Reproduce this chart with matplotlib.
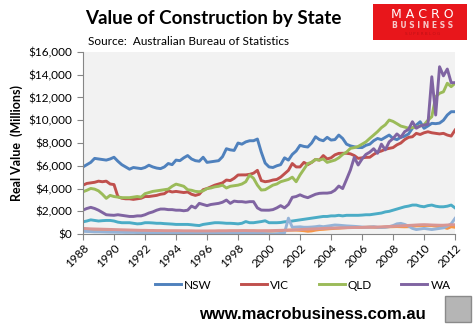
import numpy as np
import matplotlib
matplotlib.use("Agg")
import matplotlib.pyplot as plt
from matplotlib.patches import Rectangle
from matplotlib.ticker import FuncFormatter

# quarterly, 1988.0 to 2012.0
nsw = [5900, 6100, 6300, 6650, 6600, 6550, 6500, 6600, 6750, 6400, 6100, 5900,
       5700, 5850, 5800, 5750, 5850, 6050, 5900, 5800, 5750, 5900, 6200, 6100,
       6500, 6450, 6700, 6900, 6600, 6450, 6400, 6750, 6300, 6350, 6400, 6450,
       6800, 7500, 7400, 7350, 8000, 7900, 8100, 8200, 8200, 8350, 7200, 6240,
       5900, 5850, 6000, 6100, 6700, 6500, 7000, 7300, 7800, 7700, 7650, 8000,
       8550, 8300, 8200, 8500, 8260, 8300, 8700, 8400, 7900, 7750, 7670, 7600,
       7600, 7800, 7900, 8200, 8400, 8300, 8500, 8700, 8400, 8300, 8500, 8600,
       8800, 9300, 9580, 9870, 9290, 9500, 9730, 9700, 9750, 10000, 10460, 10750,
       10750]
vic = [4300, 4450, 4500, 4550, 4650, 4600, 4650, 4400, 4350, 3300, 3150, 3100,
       3100, 3050, 3100, 3150, 3300, 3300, 3350, 3400, 3500, 3550, 3800, 3700,
       3750, 3700, 3650, 3700, 3500, 3400, 3500, 3900, 4000, 4150, 4300, 4400,
       4500, 4750, 4700, 4900, 5190, 5200, 5200, 5250, 5350, 5600, 4700, 4600,
       4650, 4750, 4800, 5000, 5300, 5600, 6200, 5900, 5900, 6300, 6100, 6300,
       6560, 6500, 6900, 6600, 6700, 6960, 7090, 7100, 7100, 7050, 6900, 6650,
       6700, 6740, 6750, 7000, 7200, 7300, 7450, 7530, 7600, 7840, 8000, 8300,
       8500, 8550, 8850, 8750, 8900, 8990, 8900, 8850, 8800, 8850, 8700, 8610,
       9140]
qld = [3720, 3850, 4010, 3950, 3800, 3500, 3140, 3400, 3300, 3250, 3200, 3200,
       3200, 3250, 3300, 3250, 3550, 3650, 3750, 3800, 3850, 3900, 3950, 4200,
       4390, 4300, 4200, 3900, 3850, 3750, 3720, 3800, 4000, 4050, 4150, 4200,
       4300, 4050, 4200, 4250, 4300, 4400, 4600, 5190, 4900, 4300, 3870, 3900,
       4100, 4300, 4400, 4600, 4700, 4800, 5000, 4600, 5200, 5700, 6200, 6300,
       6560, 6500, 6600, 6300, 6400, 6500, 6700, 7000, 7200, 7530, 7600, 7700,
       7900, 8100, 8410, 8700, 9000, 9350, 9600, 10020, 9900, 9700, 9490, 9400,
       9300, 9350, 9400, 9500, 9600, 10000, 10310, 12070, 12370, 12500, 13250, 12950,
       13250]
wa = [2110, 2250, 2350, 2250, 2100, 1900, 1700, 1670, 1650, 1700, 1650, 1600,
      1550, 1550, 1600, 1600, 1700, 1850, 1950, 2100, 2200, 2200, 2150, 2150,
      2100, 2100, 2050, 2100, 2460, 2300, 2700, 2600, 2500, 2600, 2650, 2700,
      2800, 2990, 2700, 2900, 2850, 2850, 2800, 2850, 2850, 2300, 2110, 2100,
      2100, 2150, 2300, 2500, 2300, 2600, 3230, 3300, 3450, 3300, 3200, 3350,
      3500, 3580, 3600, 3600, 3650, 3850, 4220, 4000, 4800, 5630, 6740, 6070,
      6600, 7000, 7200, 7500, 7100, 7900, 7400, 8100, 8400, 8800, 8500, 9000,
      9200, 9870, 9300, 9500, 9580, 9650, 13820, 10460, 14700, 13900, 14500, 13300,
      13300]
sa = [1080, 1150, 1250, 1200, 1150, 1180, 1200, 1200, 1150, 1050, 1000, 1000,
      1000, 950, 900, 920, 1000, 1000, 980, 950, 950, 920, 900, 880,
      850, 850, 850, 850, 820, 780, 750, 850, 900, 950, 1000, 1000,
      980, 950, 950, 930, 900, 950, 1100, 1000, 1000, 1050, 1100, 1170,
      1000, 1000, 1000, 1020, 1080, 1100, 1150, 1200, 1250, 1300, 1350, 1400,
      1450, 1500, 1550, 1550, 1600, 1600, 1650, 1600, 1650, 1650, 1650, 1650,
      1670, 1700, 1700, 1750, 1800, 1850, 1950, 2000, 2100, 2200, 2300, 2400,
      2460, 2550, 2550, 2450, 2400, 2500, 2550, 2450, 2400, 2400, 2450, 2550,
      2300]
tas = [450, 420, 400, 380, 360, 350, 340, 330, 320, 310, 300, 300,
       290, 280, 280, 270, 270, 260, 260, 250, 250, 250, 240, 240,
       240, 230, 230, 230, 230, 220, 220, 230, 230, 240, 240, 250,
       250, 250, 260, 260, 260, 270, 270, 270, 270, 260, 260, 250,
       250, 260, 280, 300, 320, 340, 350, 350, 330, 300, 250, 280,
       350, 400, 420, 450, 480, 500, 520, 550, 570, 600, 620, 600,
       580, 600, 620, 600, 580, 600, 620, 640, 650, 660, 650, 640,
       650, 700, 720, 740, 750, 760, 740, 700, 650, 600, 500, 650,
       600]
nt = [250, 230, 220, 200, 200, 190, 180, 170, 170, 160, 160, 150,
      150, 150, 140, 140, 140, 130, 130, 130, 120, 120, 120, 110,
      110, 110, 100, 100, 100, 100, 100, 100, 100, 110, 110, 110,
      110, 100, 100, 100, 100, 100, 90, 90, 80, 70, 60, 40,
      20, 10, 30, 60, 100, 1400, 600, 620, 640, 600, 600, 620,
      650, 700, 650, 700, 750, 800, 780, 750, 720, 700, 680, 650,
      620, 600, 620, 650, 600, 580, 600, 650, 750, 900, 940, 850,
      700, 500, 400, 450, 500, 450, 400, 450, 500, 550, 700, 900,
      1380]
act = [500, 480, 460, 450, 440, 430, 420, 410, 400, 390, 380, 370,
       360, 350, 340, 330, 330, 320, 320, 310, 310, 300, 300, 300,
       300, 300, 290, 290, 290, 280, 280, 280, 280, 280, 280, 290,
       290, 290, 300, 300, 300, 310, 310, 300, 300, 290, 290, 300,
       300, 310, 320, 330, 340, 350, 360, 380, 400, 420, 430, 450,
       460, 480, 500, 510, 520, 530, 540, 550, 560, 570, 580, 580,
       590, 600, 600, 610, 620, 630, 650, 670, 690, 700, 720, 740,
       760, 780, 800, 820, 830, 820, 800, 790, 780, 780, 800, 820,
       820]

years = 1988 + np.arange(len(nsw)) / 4.0
series = [("NSW", nsw, "#4F81BD"), ("VIC", vic, "#C0504D"), ("QLD", qld, "#9BBB59"),
          ("WA", wa, "#8064A2"), ("SA", sa, "#4BACC6"), ("TAS", tas, "#F79646"),
          ("NT", nt, "#95B3D7"), ("ACT", act, "#D99694")]

plt.rcParams['font.family'] = ['Lato', 'DejaVu Sans']

fig = plt.figure(figsize=(4.77, 3.33), dpi=100)
ax = fig.add_axes([0.174, 0.297, 0.780, 0.547])
ax.set_facecolor("#F2F2F2")

lineas = []
for nombre, vals, col in series:
    l, = ax.plot(years, vals, color=col, lw=2.1, solid_joinstyle="round", label=nombre)
    lineas.append(l)

ax.set_xlim(1988, 2012)
ax.set_ylim(0, 16000)
ax.set_xticks(range(1988, 2013, 2))
ax.set_yticks(range(0, 16001, 2000))
ax.yaxis.set_major_formatter(FuncFormatter(lambda v, p: "${:,.0f}".format(v)))
for lab in ax.get_xticklabels():
    lab.set_rotation(45)
    lab.set_ha("right")
    lab.set_rotation_mode("anchor")
ax.tick_params(axis="both", labelsize=8.5, colors="#868686", labelcolor="black",
               length=4, width=0.8, direction="out")
ax.tick_params(axis="x", pad=2)
for s in ["top", "right"]:
    ax.spines[s].set_visible(False)
for s in ["left", "bottom"]:
    ax.spines[s].set_color("#868686")
ax.set_ylabel("Real Value  (Millions)", fontsize=9, fontweight="bold", labelpad=4)

fig.legend(lineas[:4], ["NSW", "VIC", "QLD", "WA"], loc="center", ncol=4,
           bbox_to_anchor=(0.635, 0.144), frameon=False, fontsize=8.5,
           handlelength=2.2, columnspacing=2.5, handletextpad=0.25)

fig.text(0.178, 0.945, "Value of Construction by State", fontsize=13.5, fontweight="bold",
         va="center")
fig.text(0.185, 0.874, "Source:  Australian Bureau of Statistics", fontsize=8.5, va="center")

# logo
fig.patches.append(Rectangle((0.782, 0.880), 0.197, 0.108, transform=fig.transFigure,
                             facecolor="#E8161B", edgecolor="none"))
fig.text(0.886, 0.957, "M A C R O", color="white", fontsize=9, ha="center", va="center",
         family="DejaVu Sans")
fig.text(0.886, 0.923, "B U S I N E S S", color="#F6C9C9", fontsize=5.5, ha="center",
         va="center", fontweight="bold", family="DejaVu Sans")
fig.text(0.886, 0.899, "S U P E R B L O G", color="#C01015", fontsize=3, ha="center",
         va="center", family="DejaVu Sans")

fig.text(0.655, 0.055, "www.macrobusiness.com.au", fontsize=12, fontweight="heavy",
         ha="center", va="center", family=["Liberation Sans", "DejaVu Sans"])
fig.patches.append(Rectangle((0.933, 0.033), 0.054, 0.078, transform=fig.transFigure,
                             facecolor="#B5B5B5", edgecolor="#8A8A8A", lw=1))

fig.savefig("out.png", dpi=100, facecolor="white")
